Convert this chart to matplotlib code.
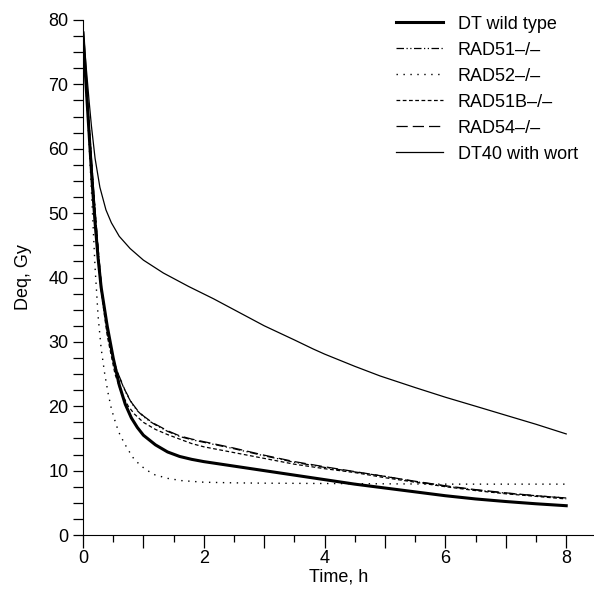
import matplotlib
matplotlib.use("Agg")
import matplotlib.pyplot as plt
from matplotlib.ticker import MultipleLocator, FuncFormatter

plt.rcParams['font.family'] = ['Liberation Sans', 'DejaVu Sans']

# Deq (Gy) against time (h)
t_wt = [0, 0.05, 0.1, 0.15, 0.2, 0.25, 0.3, 0.4, 0.5, 0.6, 0.7, 0.8, 0.9, 1.0, 1.2, 1.4,
        1.6, 1.8, 2.0, 2.5, 3.0, 3.5, 4.0, 4.5, 5.0, 5.5, 6.0, 6.5, 7.0, 7.5, 8.0]
v_wt = [78, 70, 62.5, 55, 48.5, 43, 38.5, 32.5, 27.5, 23.3, 20.3, 18.2, 16.7, 15.5, 14, 12.9,
        12.2, 11.75, 11.4, 10.7, 10.0, 9.3, 8.6, 7.9, 7.3, 6.7, 6.1, 5.6, 5.2, 4.85, 4.55]

t_rad51 = [0, 0.05, 0.1, 0.15, 0.2, 0.25, 0.31, 0.42, 0.5, 0.58, 0.7, 0.81, 0.9, 1.0, 1.1,
           1.2, 1.3, 1.4, 1.5, 1.6, 1.8, 2.0, 2.5, 3.0, 3.5, 4.0, 4.5, 5.0, 5.5, 6.0,
           6.5, 7.0, 7.5, 8.0]
v_rad51 = [78, 71, 64, 57, 50.5, 44.5, 38, 30.5, 27.2, 25, 22.3, 20.4, 19.3, 18.4, 17.7,
           17.1, 16.6, 16.1, 15.7, 15.3, 14.8, 14.4, 13.4, 12.3, 11.3, 10.5, 9.8, 9.1, 8.3,
           7.6, 7.0, 6.5, 6.1, 5.75]

t_rad52 = [0, 0.05, 0.1, 0.15, 0.2, 0.25, 0.3, 0.36, 0.42, 0.47, 0.55, 0.61, 0.7, 0.75,
           0.83, 0.94, 1.05, 1.19, 1.4, 1.63, 2.0, 2.5, 3.0, 4.0, 5.0, 6.0, 7.0, 8.0]
v_rad52 = [78, 69.5, 61, 51.5, 41.5, 34, 29, 25, 21.8, 19.6, 17.1, 15.6, 14, 13.2,
           12, 10.9, 10.1, 9.35, 8.8, 8.45, 8.2, 8.1, 8.05, 8.0, 7.95, 7.9, 7.9, 7.9]

t_rad51b = [0, 0.05, 0.1, 0.15, 0.2, 0.25, 0.3, 0.4, 0.53, 0.64, 0.75, 0.85, 1.0, 1.2,
            1.4, 1.6, 1.8, 2.0, 2.5, 3.0, 3.5, 4.0, 4.5, 5.0, 5.5, 6.0, 6.5, 7.0, 7.5, 8.0]
v_rad51b = [78, 70.5, 63.5, 56.5, 50, 43.5, 38, 31, 25, 22, 20, 18.8, 17.5, 16.4,
            15.6, 14.9, 14.2, 13.7, 12.8, 11.9, 11.0, 10.3, 9.7, 8.9, 8.2, 7.5, 6.9, 6.4,
            6.0, 5.6]

t_rad54 = [0, 0.05, 0.1, 0.15, 0.2, 0.25, 0.31, 0.42, 0.5, 0.58, 0.7, 0.81, 0.9, 1.0, 1.1,
           1.2, 1.3, 1.4, 1.5, 1.6, 1.8, 2.0, 2.5, 3.0, 3.5, 4.0, 4.5, 5.0, 5.5, 6.0,
           6.5, 7.0, 7.5, 8.0]
v_rad54 = [78, 71, 64, 57, 50.5, 44.5, 38.2, 30.7, 27.3, 25.1, 22.4, 20.5, 19.4, 18.5, 17.8,
           17.2, 16.7, 16.2, 15.8, 15.4, 14.9, 14.5, 13.5, 12.4, 11.4, 10.6, 9.85, 9.1, 8.35,
           7.65, 7.05, 6.55, 6.1, 5.75]

t_wort = [0, 0.05, 0.1, 0.14, 0.2, 0.28, 0.38, 0.47, 0.6, 0.78, 1.0, 1.33, 1.75, 2.16,
          2.5, 3.0, 3.5, 3.81, 4.0, 4.5, 4.92, 5.5, 6.0, 6.52, 7.0, 7.5, 8.0]
v_wort = [79, 73, 67.5, 63.5, 58.5, 54, 50.5, 48.5, 46.4, 44.5, 42.7, 40.7, 38.6, 36.7,
          35.0, 32.5, 30.3, 28.9, 28.1, 26.2, 24.7, 22.9, 21.4, 19.95, 18.6, 17.2, 15.7]

fig = plt.figure(figsize=(5.94, 5.92), dpi=100)
ax = fig.add_axes([83 / 594, 57 / 592, 511 / 594, 515 / 592])

ax.plot(t_wt, v_wt, color='black', lw=2.2, label='DT wild type')
ax.plot(t_rad51, v_rad51, color='black', lw=0.9, ls=(0, (6, 2, 1, 2, 1, 2)), label='RAD51\u2013/\u2013')
ax.plot(t_rad52, v_rad52, color='black', lw=1.0, ls=(0, (1, 4)), label='RAD52\u2013/\u2013')
ax.plot(t_rad51b, v_rad51b, color='black', lw=0.9, ls=(0, (3, 2)), label='RAD51B\u2013/\u2013')
ax.plot(t_rad54, v_rad54, color='black', lw=0.9, ls=(0, (9, 4)), label='RAD54\u2013/\u2013')
ax.plot(t_wort, v_wort, color='black', lw=0.9, label='DT40 with wort')

ax.set_xlim(0, 8.46)
ax.set_ylim(0, 80)
ax.spines['top'].set_visible(False)
ax.spines['right'].set_visible(False)

ax.xaxis.set_major_locator(MultipleLocator(1))
ax.xaxis.set_minor_locator(MultipleLocator(0.5))
ax.xaxis.set_major_formatter(FuncFormatter(lambda x, p: '%d' % x if int(round(x)) % 2 == 0 else ''))
ax.yaxis.set_major_locator(MultipleLocator(10))
ax.yaxis.set_minor_locator(MultipleLocator(2.5))
ax.tick_params(axis='x', which='major', length=9, width=0.9, labelsize=13, pad=2)
ax.tick_params(axis='x', which='minor', length=5, width=0.9)
ax.tick_params(axis='y', which='both', length=7, width=0.9, labelsize=13)

ax.set_xlabel('Time, h', fontsize=13, labelpad=1)
ax.set_ylabel('Deq, Gy', fontsize=13, labelpad=12)

ax.legend(loc='upper right', bbox_to_anchor=(1.0, 1.04), frameon=False, fontsize=13,
          handlelength=2.6, labelspacing=0.5, handletextpad=0.8)

fig.savefig('out.png', dpi=100)
